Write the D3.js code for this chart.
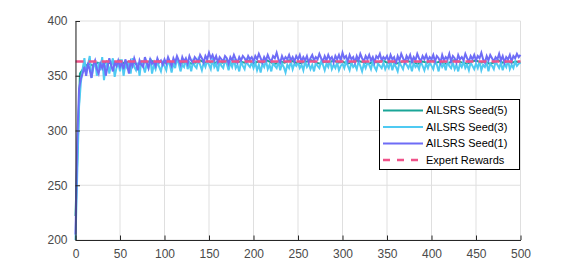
<!DOCTYPE html>
<html>
<head>
<meta charset="utf-8">
<script src="https://cdn.jsdelivr.net/npm/d3@7"></script>
<style>
  body { margin: 0; background: #fff; }
  svg { font-family: "Liberation Sans", Arial, sans-serif; }
</style>
</head>
<body>
<svg id="chart" width="576" height="270"></svg>
<script>
// episodes (x) for the step-2 and step-5 series
var episodes2 = d3.range(0, 501, 2);
var episodes5 = d3.range(0, 501, 5);

var seed1 = [
  205, 292, 338, 347, 352,
  358, 350, 362, 355, 348, 360, 364, 356, 352, 361, 357, 363, 350, 358, 366, 360, 354, 362, 359, 364,
  358, 362, 356, 365, 360, 352, 363, 359, 366, 361, 355, 364, 360, 358, 367, 362, 357, 365, 361, 363, 359, 366, 362, 364, 360,
  365, 361, 367, 363, 359, 366, 362, 368, 364, 360, 367, 363, 366, 361, 368, 364, 362, 367, 365, 363, 369, 366, 362, 368, 365,
  371, 366, 369, 364, 368, 362, 367, 365, 363, 368, 366, 361, 367, 364, 369, 365, 362, 367, 364, 368, 366, 363, 368, 365, 367,
  363, 368, 365, 370, 366, 362, 367, 364, 369, 365, 363, 368, 366, 371, 365, 362, 368, 364, 367, 365, 369, 364, 367, 363, 368,
  365, 369, 363, 367, 364, 368, 362, 366, 369, 364, 367, 365, 370, 366, 363, 368, 364, 369, 365, 367, 362, 368, 365, 369, 364,
  371, 366, 368, 363, 369, 365, 367, 362, 368, 364, 370, 366, 363, 368, 365, 369, 364, 367, 362, 368, 366, 370, 364, 367, 365,
  368, 363, 369, 365, 367, 361, 368, 364, 370, 366, 362, 368, 365, 369, 363, 367, 364, 370, 366, 363, 368, 365, 369, 364, 367,
  365, 369, 363, 368, 366, 362, 369, 364, 367, 365, 370, 363, 368, 366, 362, 369, 365, 367, 364, 370, 366, 363, 368, 365, 369,
  364, 368, 366, 371, 365, 362, 368, 364, 369, 366, 363, 367, 365, 370, 364, 368, 362, 367, 365, 369, 363, 368, 366, 370, 367,
  369
];

var seed3 = [
  200, 262, 322, 344, 356,
  366, 352, 360, 368, 348, 357, 364, 350, 362, 355, 367, 346, 358, 363, 352, 360, 366, 349, 357, 362,
  354, 365, 350, 360, 357, 363, 352, 366, 358, 355, 362, 350, 364, 359, 353, 361, 357, 366, 352, 360, 356, 363, 358, 354, 362,
  359, 355, 364, 360, 353, 362, 357, 366, 361, 354, 360, 358, 365, 356, 361, 354, 363, 359, 357, 365, 360, 355, 362, 358, 364,
  360, 356, 366, 358, 361, 354, 363, 359, 357, 364, 361, 355, 362, 358, 365, 357, 360, 354, 363, 359, 356, 364, 360, 358, 362,
  357, 362, 355, 360, 353, 361, 358, 364, 356, 360, 354, 362, 359, 357, 363, 355, 361, 358, 353, 360, 357, 363, 356, 361, 359,
  362, 357, 360, 355, 363, 358, 361, 356, 360, 354, 362, 359, 357, 363, 360, 355, 361, 358, 364, 356, 360, 357, 362, 355, 359,
  361, 357, 363, 359, 355, 362, 358, 360, 356, 363, 359, 354, 361, 357, 362, 360, 356, 363, 358, 355, 361, 359, 357, 362, 356,
  360, 357, 363, 355, 361, 358, 354, 362, 359, 356, 363, 360, 357, 361, 354, 362, 358, 360, 356, 363, 359, 355, 361, 357, 362,
  359, 356, 363, 360, 354, 362, 358, 361, 355, 363, 359, 357, 362, 356, 360, 354, 361, 358, 363, 357, 360, 355, 362, 359, 356,
  361, 357, 363, 355, 360, 358, 362, 354, 361, 359, 356, 363, 360, 357, 362, 355, 361, 358, 364, 356, 360, 357, 363, 359, 361,
  362
];

var seed5 = [
  222, 352, 358, 361, 359, 362, 360, 363, 361, 362, 364, 361, 363, 362, 360, 363, 362, 364, 361, 363,
  362, 363, 361, 364, 362, 363, 361, 362, 364, 362, 363, 361, 363, 362, 364, 361, 362, 363, 362, 364,
  361, 363, 362, 364, 362, 361, 363, 362, 364, 363, 361, 362, 363, 364, 362, 361, 363, 362, 364, 362,
  363, 361, 362, 364, 363, 362, 361, 363, 362, 364, 362, 363, 361, 362, 364, 363, 362, 361, 363, 362,
  364, 362, 363, 361, 362, 364, 363, 362, 361, 363, 364, 362, 363, 361, 362, 364, 362, 363, 362, 363,
  362
];

var expertReward = 363;
var xTicks = [0, 50, 100, 150, 200, 250, 300, 350, 400, 450, 500];
var yTicks = [200, 250, 300, 350, 400];
var legendNames = ["AILSRS Seed(5)", "AILSRS Seed(3)", "AILSRS Seed(1)", "Expert Rewards"];
var colors = ["#1aa597", "#4fcaf2", "#6e6cf6", "#f0538a"];

var svg = d3.select("#chart");
var plotLeft = 75.5, plotRight = 520.5, plotTop = 21, plotBottom = 240;

var x = d3.scaleLinear().domain([0, 500]).range([plotLeft, plotRight]);
var y = d3.scaleLinear().domain([200, 400]).range([plotBottom, plotTop]);

// grid
svg.append("g").selectAll("line").data(xTicks).enter().append("line")
  .attr("x1", function(d) { return x(d); }).attr("x2", function(d) { return x(d); })
  .attr("y1", plotTop).attr("y2", plotBottom)
  .attr("stroke", "#dfdfdf").attr("stroke-width", 1);
svg.append("g").selectAll("line").data(yTicks).enter().append("line")
  .attr("x1", plotLeft).attr("x2", plotRight)
  .attr("y1", function(d) { return y(d); }).attr("y2", function(d) { return y(d); })
  .attr("stroke", "#dfdfdf").attr("stroke-width", 1);

var plot = svg.append("g");
var line2 = d3.line().x(function(d, i) { return x(episodes2[i]); }).y(function(d) { return y(d); });
var line5 = d3.line().x(function(d, i) { return x(episodes5[i]); }).y(function(d) { return y(d); });

plot.append("path").attr("d", line5(seed5))
  .attr("fill", "none").attr("stroke", colors[0]).attr("stroke-width", 2);
plot.append("path").attr("d", line2(seed3))
  .attr("fill", "none").attr("stroke", colors[1]).attr("stroke-width", 2);
plot.append("path").attr("d", line2(seed1))
  .attr("fill", "none").attr("stroke", colors[2]).attr("stroke-width", 2);
plot.append("line")
  .attr("x1", x(0)).attr("x2", x(500))
  .attr("y1", y(expertReward)).attr("y2", y(expertReward))
  .attr("stroke", colors[3]).attr("stroke-width", 2.5)
  .attr("stroke-dasharray", "8,5");

// axes, MATLAB style: ticks inward, box off
var xAxis = svg.append("g").attr("transform", "translate(0," + plotBottom + ")")
  .call(d3.axisBottom(x).tickValues(xTicks).tickSizeInner(-4.5).tickSizeOuter(0).tickPadding(9));
var yAxis = svg.append("g").attr("transform", "translate(" + plotLeft + ",0)")
  .call(d3.axisLeft(y).tickValues(yTicks).tickSizeInner(-4.5).tickSizeOuter(0).tickPadding(8));
[xAxis, yAxis].forEach(function(g) {
  g.select(".domain").attr("stroke", "#262626");
  g.selectAll(".tick line").attr("stroke", "#262626");
  g.selectAll("text").attr("fill", "#4a4a4a").style("font-size", "12px")
    .style("font-family", "'Liberation Sans', Arial, sans-serif");
});

// legend
var lg = svg.append("g");
lg.append("rect").attr("x", 379.5).attr("y", 99.5).attr("width", 140).attr("height", 70)
  .attr("fill", "#fff").attr("stroke", "#000").attr("stroke-width", 1);
legendNames.forEach(function(name, i) {
  var cy = 110.5 + i * 16.5;
  lg.append("line").attr("x1", 383).attr("x2", 423).attr("y1", cy).attr("y2", cy)
    .attr("stroke", colors[i]).attr("stroke-width", i == 3 ? 2.5 : 2)
    .attr("stroke-dasharray", i == 3 ? "7,7" : null);
  lg.append("text").attr("x", 426).attr("y", cy).attr("dy", "0.35em")
    .attr("fill", "#000").style("font-size", "11px").text(name);
});
</script>
</body>
</html>
